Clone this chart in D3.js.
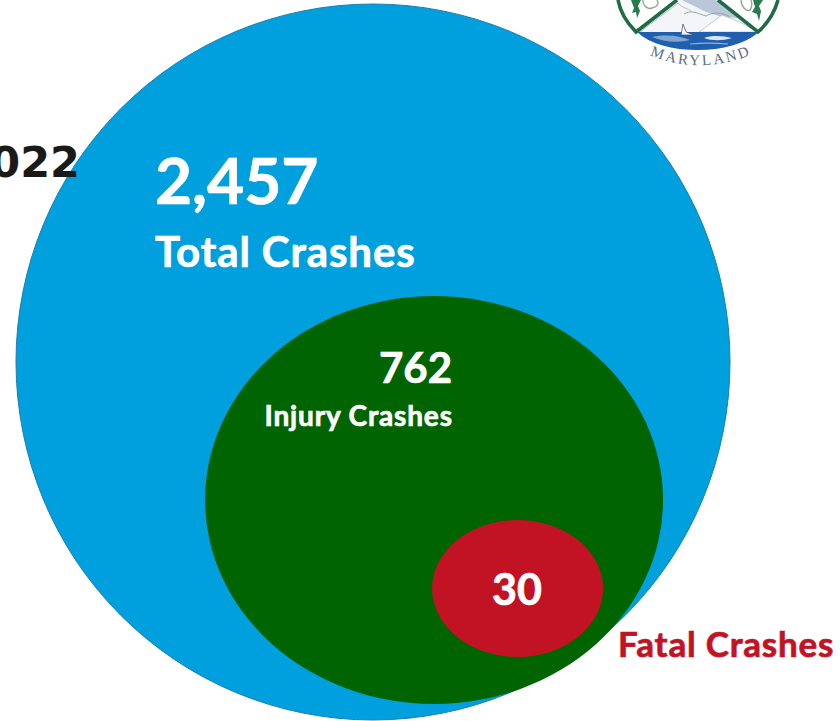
<!DOCTYPE html>
<html>
  <head>
    <script src="https://d3js.org/d3.v7.min.js"></script>
    <style>
      html, body { margin: 0; padding: 0; background: #fff; overflow: hidden; }
    </style>
  </head>
  <body>
    <div id="chart"></div>

    <script>
      const categories = ["Total Crashes", "Injury Crashes", "Fatal Crashes"];
      const crashCounts = [2457, 762, 30];
      const yearLabel = "2022";
      const sealLabel = "MARYLAND";

      const width = 840;
      const height = 721;
      const fmt = d3.format(",");

      const svg = d3.select("#chart")
        .append("svg")
        .attr("width", width)
        .attr("height", height)
        .style("display", "block");

      // the bubbles are not to scale in the source, so the radii are piecewise
      const rx = d3.scaleLinear().domain([30, 762, 2457]).range([85.5, 229, 357]);
      const ry = d3.scaleLinear().domain([30, 762, 2457]).range([68.5, 204, 358]);
      const colors = d3.scaleOrdinal().domain(categories).range(["#00a0df", "#006400", "#c21325"]);

      // each bubble sits inside its parent, share = how far towards the parent's edge
      const nest = [null, { x: 0.477, y: 0.896 }, { x: 0.582, y: 0.653 }];
      const bubbles = [];
      categories.forEach(function(name, i) {
        const b = { name: name, value: crashCounts[i], rx: rx(crashCounts[i]), ry: ry(crashCounts[i]) };
        if (i === 0) {
          b.cx = 16 + b.rx;
          b.cy = 4 + b.ry;
        } else {
          const p = bubbles[i - 1];
          b.cx = p.cx + nest[i].x * (p.rx - b.rx);
          b.cy = p.cy + nest[i].y * (p.ry - b.ry);
        }
        bubbles.push(b);
      });

      svg.selectAll(".bubble")
        .data(bubbles)
        .enter()
        .append("ellipse")
        .attr("class", "bubble")
        .attr("cx", d => d.cx)
        .attr("cy", d => d.cy)
        .attr("rx", d => d.rx)
        .attr("ry", d => d.ry)
        .attr("fill", d => colors(d.name))
        .attr("stroke", (d, i) => i === 0 ? "#1a7fae" : "none")
        .attr("stroke-width", 1);

      // seal at the top right, only the lower part is on the page
      const seal = svg.append("g");
      const sealPath = (d, fill, stroke, sw) => seal.append("path")
        .attr("d", d)
        .attr("fill", fill)
        .attr("stroke", stroke || "none")
        .attr("stroke-width", sw || 0);

      // sky, hills and clouds
      sealPath("M677,0 L718,0 L758,32 L637,32 Z", "#f3f5f8");
      sealPath("M682,0 L716,0 L738,18 L722,17 L706,12 L694,6 Z", "#b9c7d8");
      sealPath("M684,14 C692,9 698,14 706,16 C712,12 722,12 730,17", "none", "#8e9cab", 0.9);
      sealPath("M699,32 L722,15 C730,18 742,22 757,32 Z", "#ffffff", "#aab6c3", 0.7);
      sealPath("M640,32 L678,3 C682,8 688,8 692,12", "none", "#b8c0ca", 1);

      // water
      sealPath("M637,32 L759,32 C745,44 722,50 698,50 C672,50 650,44 637,32 Z", "#1f5fae");
      sealPath("M652,37 C668,34 680,36 690,40 C678,43 664,42 652,37 Z", "#7fa6d2");
      sealPath("M704,38 C712,35 724,36 732,38 C722,41 712,41 704,38 Z", "#dbe6f2");
      sealPath("M690,44 C700,43 716,43 728,44", "none", "#8fb2d8", 1.2);

      // sailboat
      sealPath("M681,35 L683,24 L686,32 L694,35 Z", "#f4f6f9", "#3d4d60", 0.7);

      // shield outlines
      sealPath("M618,0 C620,11 627,23 636,32 L677,0", "none", "#1f6b45", 3.6);
      sealPath("M778,0 C775,11 768,23 758,32 L718,0", "none", "#1f6b45", 3.6);

      // trees and leaves in the shields
      sealPath("M631,0 L634,8 L632,13 L636,12 L637,18 L640,11 L638,6 L641,0 Z", "#2a7a4f");
      sealPath("M753,0 L755,7 L752,12 L757,14 L759,21 L761,11 L759,6 L763,0 Z", "#2a7a4f");
      sealPath("M643,0 C642,5 648,10 652,8 C658,7 659,3 657,0", "none", "#8fa99a", 1.4);
      sealPath("M741,0 C741,6 746,12 750,10 C753,6 752,3 751,0", "none", "#8fa99a", 1.4);

      // MARYLAND follows the bottom curve of the seal
      sealPath("M645,53 Q700,78 757,52", "none").attr("id", "seal-arc");
      seal.append("text")
        .attr("font-family", "'Liberation Serif', serif")
        .attr("font-size", 15)
        .attr("letter-spacing", 2.4)
        .attr("fill", "#5d6b80")
        .append("textPath")
        .attr("href", "#seal-arc")
        .attr("startOffset", "50%")
        .attr("text-anchor", "middle")
        .text(sealLabel);

      // year is what remains of a title cut off by the left edge
      svg.append("text")
        .attr("x", 80)
        .attr("y", 177)
        .attr("text-anchor", "end")
        .attr("font-family", "'DejaVu Sans', sans-serif")
        .attr("font-weight", 700)
        .attr("font-size", 43)
        .attr("fill", "#1a1a1a")
        .text(yearLabel);

      // Lato runs a bit narrow and light here, so add some spacing and a thin stroke
      const labelFont = "Lato, 'Open Sans', sans-serif";
      const label = (x, y, size, color, anchor, str, spacing) => svg.append("text")
        .attr("x", anchor === "end" ? x + spacing : x)
        .attr("y", y)
        .attr("text-anchor", anchor)
        .attr("font-family", labelFont)
        .attr("font-weight", 700)
        .attr("font-size", size)
        .attr("letter-spacing", spacing)
        .attr("fill", color)
        .attr("stroke", color)
        .attr("stroke-width", 0.7)
        .text(str);

      label(155, 204, 64, "#ffffff", "start", fmt(crashCounts[0]), 0);
      label(155, 267, 42, "#ffffff", "start", categories[0], 0.9);
      label(452, 383, 42, "#ffffff", "end", fmt(crashCounts[1]), 0);
      label(452, 426, 28, "#ffffff", "end", categories[1], 0.85);
      label(517, 605, 43, "#ffffff", "middle", fmt(crashCounts[2]), 0);
      label(618, 657, 35, colors(categories[2]), "start", categories[2], 0.8);
    </script>
  </body>
</html>
